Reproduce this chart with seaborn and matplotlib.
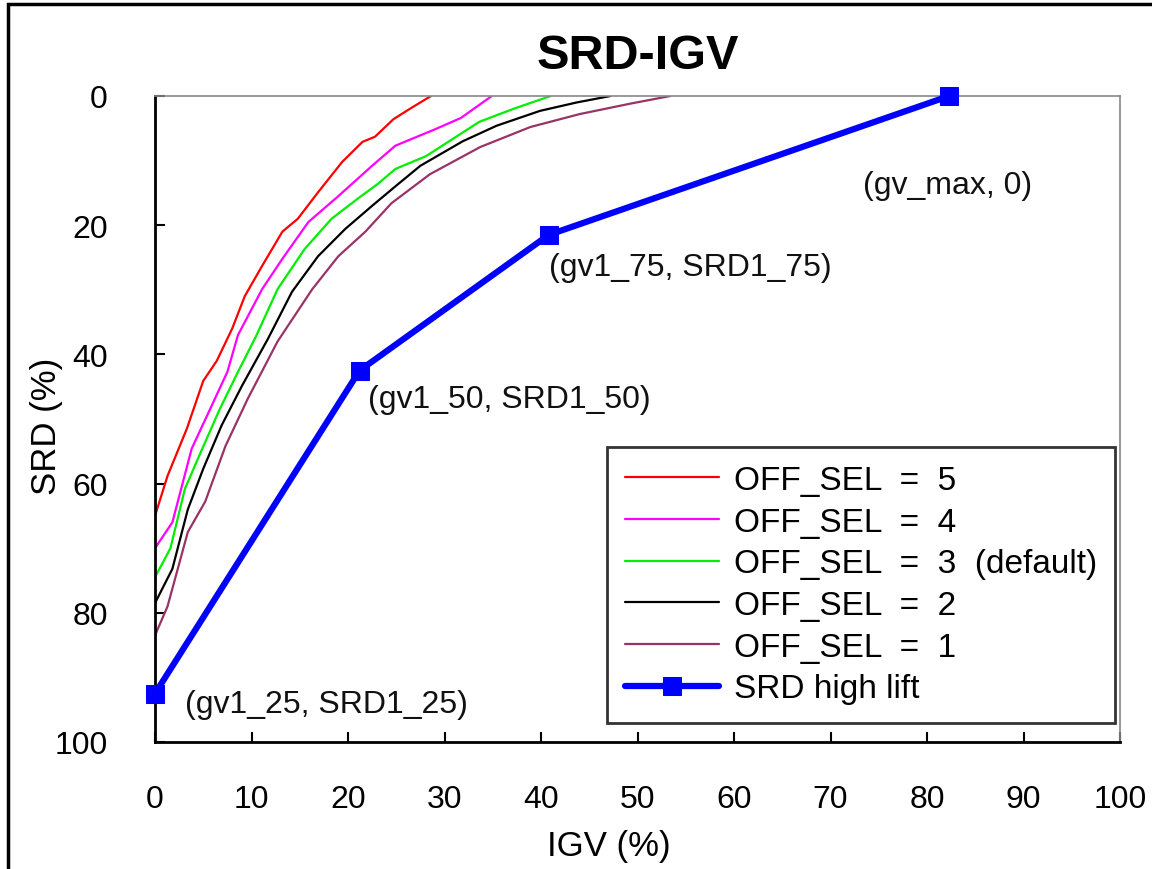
import matplotlib
matplotlib.use('Agg')
import matplotlib.pyplot as plt
import seaborn as sns
from matplotlib.patches import Rectangle

# curve data (IGV %, SRD %)
red_x = [0, 1.3, 3.3, 5.0, 6.4, 8.0, 9.3, 11.1, 13.2, 14.8, 16.9, 19.4, 21.5, 22.8, 24.7, 26.5, 28.6]
red_y = [65, 58.8, 51.5, 44.1, 41, 36, 31, 26.3, 21, 19, 14.9, 10.2, 7.1, 6.3, 3.6, 1.9, 0]

mag_x = [0, 1.8, 3.8, 5.7, 7.5, 8.6, 11.1, 13.2, 15.9, 19.0, 22.5, 24.9, 29.1, 31.7, 34.9]
mag_y = [70, 66, 54.6, 48.5, 42.7, 37, 29.9, 25.2, 19.5, 15.5, 10.8, 7.7, 5.1, 3.4, 0]

grn_x = [0, 1.6, 3.1, 4.9, 6.7, 8.6, 10.5, 12.7, 15.5, 18.3, 21, 23.1, 24.9, 28.1, 33.6, 37.3, 41]
grn_y = [74.5, 70, 60.8, 54.6, 48.5, 42.7, 37.1, 29.9, 23.7, 19, 15.9, 13.6, 11.3, 9.3, 4, 1.9, 0]

blk_x = [0, 1.8, 3.4, 5, 6.9, 9, 11.7, 14.2, 16.9, 19.7, 22.5, 24.9, 27.5, 31.9, 35.4, 39.9, 43.7, 47.2]
blk_y = [78.5, 73.2, 64, 57.7, 51, 44.9, 37.6, 30.3, 24.8, 20.6, 17, 14, 10.8, 7, 4.6, 2.3, 1, 0]

brn_x = [0, 1.3, 3.4, 5.2, 7.3, 9.6, 12.7, 16.3, 19, 21.8, 24.5, 28.5, 33.7, 38.9, 44, 49.2, 53.4]
brn_y = [83.5, 79, 67.5, 62.8, 54.2, 46.9, 38, 29.9, 24.8, 21, 16.6, 12.1, 7.9, 4.8, 2.8, 1.2, 0]

hl_x = [0, 21.2, 40.8, 82.3]
hl_y = [92.5, 42.5, 21.5, 0]
hl_labels = ['(gv1_25, SRD1_25)', '(gv1_50, SRD1_50)', '(gv1_75, SRD1_75)', '(gv_max, 0)']

curve_labels = ['OFF_SEL  =  5', 'OFF_SEL  =  4', 'OFF_SEL  =  3  (default)',
                'OFF_SEL  =  2', 'OFF_SEL  =  1']
curve_colors = ['#ff0000', '#ff00ff', '#00ee00', '#000000', '#993366']

sns.set_style('white')
plt.rcParams['font.family'] = ['Liberation Sans', 'DejaVu Sans']
plt.rcParams['text.color'] = 'black'
plt.rcParams['axes.labelcolor'] = 'black'
plt.rcParams['xtick.color'] = 'black'
plt.rcParams['ytick.color'] = 'black'

fig = plt.figure(figsize=(11.52, 8.7), dpi=100)
ax = fig.add_axes([155 / 1152, 1 - 743 / 870, 965 / 1152, 646 / 870])

curves = [(red_x, red_y), (mag_x, mag_y), (grn_x, grn_y), (blk_x, blk_y), (brn_x, brn_y)]
for (cx, cy), lab, col in zip(curves, curve_labels, curve_colors):
    sns.lineplot(x=cx, y=cy, ax=ax, color=col, lw=1.6, label=lab,
                 estimator=None, sort=False)

sns.lineplot(x=hl_x, y=hl_y, ax=ax, color='#0000ff', lw=4.5, marker='s',
             markersize=13, markeredgecolor='#0000ff', label='SRD high lift',
             estimator=None, sort=False, clip_on=False, zorder=5)

# point labels
offsets = [(30, -10), (8, -28), (0, -32), (-86, -89)]
for px, py, lab, off in zip(hl_x, hl_y, hl_labels, offsets):
    ax.annotate(lab, (px, py), xytext=off, textcoords='offset pixels',
                ha='left', va='center', fontsize=23, color='#111111')

ax.set_xlim(0, 100)
ax.set_ylim(100, 0)
ax.set_xticks(range(0, 101, 10))
ax.set_yticks(range(0, 101, 20))
ax.tick_params(axis='x', direction='in', length=7, width=1.5, pad=30,
               labelsize=23, bottom=True)
ax.tick_params(axis='y', direction='in', length=7, width=1.5, pad=34,
               labelsize=23, left=True)

for side in ['left', 'bottom']:
    ax.spines[side].set_color('black')
    ax.spines[side].set_linewidth(2)
for side in ['top', 'right']:
    ax.spines[side].set_color('#888888')
    ax.spines[side].set_linewidth(1.2)

ax.set_title('SRD-IGV', fontsize=35, fontweight='bold', pad=20)
ax.set_xlabel('IGV (%)', fontsize=25)
ax.set_ylabel('SRD (%)', fontsize=25)
ax.xaxis.set_label_coords(0.47, -0.135)
ax.yaxis.set_label_coords(-0.095, 0.49)

leg = ax.legend(loc='lower right', bbox_to_anchor=(0.995, 0.03), borderaxespad=0,
                fontsize=24, frameon=True, fancybox=False, edgecolor='black',
                handlelength=2.8, handletextpad=0.45, labelspacing=0.32,
                borderpad=0.55)
leg.get_frame().set_linewidth(2)

# outer frame of the picture
fig.patches.append(Rectangle((8 / 1152, -0.1), 1.2, 1.1 - 5 / 870, transform=fig.transFigure,
                             fill=False, lw=2.5, edgecolor='black'))

fig.savefig('out.png', dpi=100)
